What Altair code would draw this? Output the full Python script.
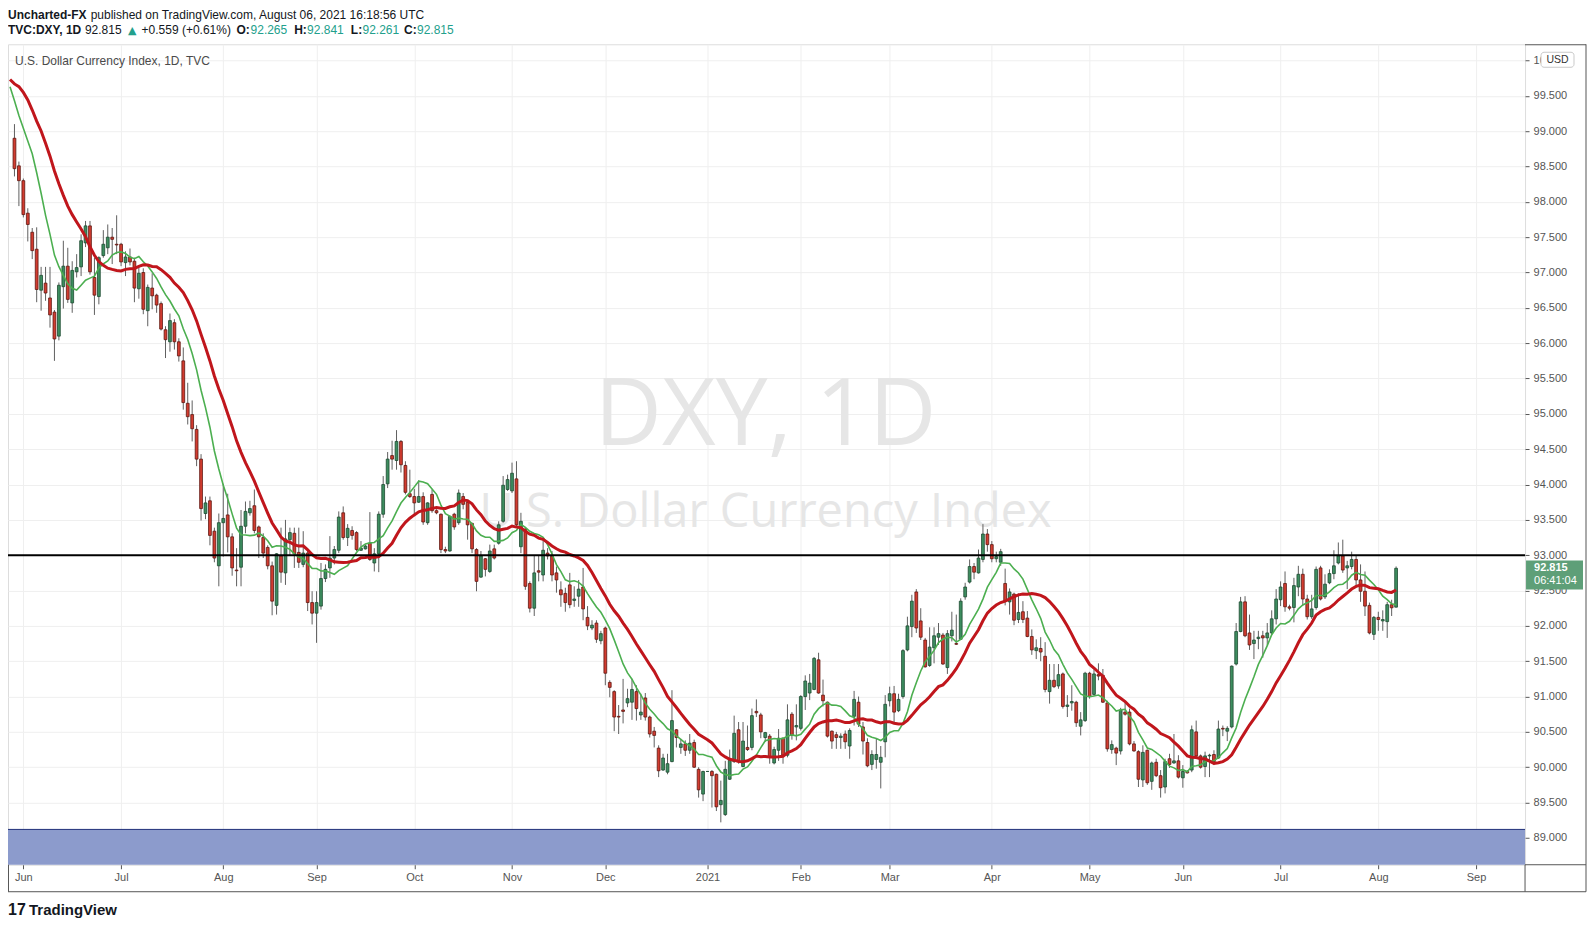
import altair as alt
import pandas as pd

# ---------------- data ----------------
# one entry per daily bar, 28 May 2020 ... 6 Aug 2021 (bar index 0..311)
opens = [
    98.90, 98.51, 98.30, 97.84, 97.57, 97.33, 96.75, 96.85, 96.64, 96.44,
    96.10, 96.80, 97.09, 96.57, 97.01, 97.08, 97.42, 97.66, 96.93, 96.66,
    97.24, 97.35, 97.50, 97.40, 97.40, 97.14, 97.22, 97.16, 96.77, 97.00,
    96.46, 96.78, 96.68, 96.56, 96.19, 96.02, 96.29, 96.02, 95.75, 95.15,
    94.99, 94.78, 94.36, 93.59, 93.77, 93.34, 92.85, 93.46, 93.57, 93.26,
    92.79, 92.83, 93.41, 93.60, 93.70, 93.40, 93.25, 93.11, 92.85, 92.29,
    92.99, 92.75, 93.22, 93.31, 93.04, 92.87, 93.03, 92.33, 92.18, 92.28,
    92.67, 92.82, 92.96, 93.07, 93.60, 93.25, 93.35, 93.32, 93.07, 93.09,
    93.17, 92.89, 93.02, 93.58, 94.01, 94.41, 94.34, 94.61, 94.27, 93.87,
    93.83, 93.75, 93.83, 93.46, 93.86, 93.63, 93.58, 93.08, 93.06, 93.58,
    93.46, 93.83, 93.75, 93.45, 93.08, 92.69, 92.95, 92.77, 93.09, 93.17,
    93.48, 93.93, 93.91, 94.08, 93.12, 93.37, 92.60, 92.25, 92.78, 92.72,
    93.03, 92.99, 92.75, 92.51, 92.46, 92.58, 92.36, 92.42, 92.55, 92.12,
    91.97, 92.04, 91.79, 91.97, 91.20, 91.07, 90.72, 90.81, 90.91, 90.92,
    91.07, 90.74, 90.98, 90.71, 90.51, 90.27, 89.96, 89.93, 90.08, 90.53,
    90.28, 90.33, 90.24, 90.35, 89.97, 89.62, 89.94, 89.94, 89.90, 89.47,
    89.33, 89.83, 90.08, 90.53, 90.01, 90.28, 90.28, 90.79, 90.74, 90.42,
    90.44, 90.06, 90.24, 90.41, 90.17, 90.75, 90.57, 90.55, 91.00, 91.05,
    91.10, 91.52, 91.02, 90.92, 90.51, 90.46, 90.42, 90.47, 90.30, 90.72,
    90.92, 90.57, 90.35, 90.04, 90.11, 90.07, 90.36, 90.94, 91.04, 90.80,
    91.00, 91.66, 91.99, 92.48, 92.07, 91.80, 91.44, 91.69, 91.84, 91.87,
    91.41, 91.86, 91.75, 91.81, 92.41, 92.62, 92.84, 92.75, 92.94, 93.30,
    93.15, 92.95, 92.90, 92.60, 92.34, 92.45, 92.09, 92.20, 92.11, 91.85,
    91.65, 91.68, 91.57, 91.07, 91.23, 91.15, 91.32, 90.86, 90.91, 90.92,
    90.58, 90.66, 91.33, 91.03, 91.31, 91.30, 90.91, 90.25, 90.27, 90.23,
    90.78, 90.78, 90.33, 90.22, 89.82, 90.24, 89.80, 90.07, 89.88, 89.72,
    90.12, 90.06, 90.09, 89.85, 89.94, 89.96, 90.50, 90.16, 90.01, 90.16,
    90.18, 90.13, 90.55, 90.51, 90.57, 91.46, 91.92, 92.34, 91.90, 91.75,
    91.82, 91.86, 91.83, 91.90, 92.10, 92.37, 92.60, 92.27, 92.26, 92.55,
    92.73, 92.38, 92.13, 92.26, 92.82, 92.41, 92.61, 92.74, 92.89, 92.99,
    92.82, 92.84, 92.94, 92.65, 92.49, 92.29, 91.88, 92.12, 92.07, 92.06,
    92.30, 92.265,
]
highs = [
    99.10, 98.57, 98.33, 97.91, 97.63, 97.64, 97.08, 97.08, 97.08, 96.47,
    96.86, 97.45, 97.35, 97.16, 97.26, 97.54, 97.73, 97.73, 97.21, 97.23,
    97.60, 97.68, 97.63, 97.81, 97.42, 97.30, 97.34, 97.21, 97.09, 97.06,
    96.83, 96.99, 96.70, 96.59, 96.24, 96.42, 96.34, 96.07, 95.94, 95.44,
    95.19, 94.84, 94.43, 93.83, 93.83, 93.39, 93.59, 94.01, 93.87, 93.31,
    93.10, 93.64, 93.76, 93.77, 93.93, 93.42, 93.31, 93.14, 92.91, 93.03,
    93.39, 93.50, 93.39, 93.39, 93.39, 93.34, 93.08, 92.49, 92.49, 92.89,
    92.87, 93.27, 93.13, 93.62, 93.69, 93.44, 93.41, 93.34, 93.20, 93.15,
    93.61, 93.10, 93.62, 94.12, 94.46, 94.62, 94.77, 94.63, 94.33, 94.21,
    93.94, 94.06, 93.89, 93.75, 93.93, 93.65, 93.59, 93.12, 93.56, 93.60,
    93.93, 93.88, 93.76, 93.46, 93.10, 93.06, 92.96, 93.15, 93.15, 93.48,
    94.12, 94.14, 94.31, 94.33, 93.60, 93.40, 92.63, 92.99, 92.99, 93.22,
    93.10, 93.06, 92.84, 92.63, 92.54, 92.75, 92.56, 92.65, 92.82, 92.28,
    92.08, 92.08, 91.93, 91.99, 91.23, 91.09, 90.88, 91.25, 91.11, 91.25,
    91.16, 91.04, 91.05, 90.73, 90.57, 90.31, 90.19, 90.19, 91.09, 90.54,
    90.40, 90.38, 90.47, 90.39, 90.00, 89.95, 89.94, 89.96, 89.91, 89.81,
    90.09, 90.25, 90.73, 90.64, 90.64, 90.59, 90.83, 90.96, 90.77, 90.50,
    90.47, 90.29, 90.54, 90.42, 90.89, 90.78, 90.89, 91.02, 91.30, 91.32,
    91.56, 91.62, 91.24, 90.93, 90.52, 90.50, 90.48, 90.52, 90.55, 91.08,
    91.00, 90.64, 90.41, 90.24, 90.41, 90.30, 91.02, 91.14, 91.15, 91.04,
    91.67, 92.13, 92.44, 92.52, 92.25, 91.83, 91.98, 91.98, 92.04, 91.90,
    91.94, 92.20, 92.16, 92.39, 92.61, 92.94, 92.89, 93.08, 93.44, 93.37,
    93.20, 93.05, 93.09, 92.81, 92.53, 92.47, 92.46, 92.35, 92.21, 91.95,
    91.81, 91.84, 91.77, 91.46, 91.46, 91.46, 91.34, 91.02, 91.16, 90.94,
    90.78, 91.35, 91.35, 91.41, 91.47, 91.39, 90.94, 90.38, 90.29, 90.84,
    90.94, 90.83, 90.37, 90.24, 90.31, 90.25, 90.08, 90.12, 89.96, 90.12,
    90.19, 90.47, 90.17, 90.03, 89.96, 90.59, 90.66, 90.18, 90.22, 90.19,
    90.24, 90.66, 90.59, 90.58, 91.44, 92.04, 92.41, 92.42, 92.16, 91.93,
    91.93, 91.93, 92.04, 92.22, 92.52, 92.63, 92.77, 92.30, 92.68, 92.85,
    92.81, 92.44, 92.44, 92.84, 92.85, 92.73, 92.80, 93.07, 93.18, 93.22,
    92.92, 93.05, 92.99, 92.87, 92.77, 92.33, 92.14, 92.20, 92.22, 92.34,
    92.37, 92.841,
]
lows = [
    98.36, 97.94, 97.78, 97.44, 97.19, 96.58, 96.46, 96.60, 96.22, 95.75,
    96.04, 96.49, 96.57, 96.43, 96.93, 96.95, 97.36, 96.97, 96.40, 96.55,
    97.21, 97.26, 97.12, 97.26, 97.09, 96.95, 97.10, 96.58, 96.63, 96.41,
    96.24, 96.48, 96.43, 96.18, 95.79, 95.88, 95.91, 95.74, 95.06, 94.85,
    94.61, 94.26, 93.49, 93.51, 93.14, 92.90, 92.56, 92.98, 93.04, 92.71,
    92.56, 92.56, 93.31, 93.56, 93.31, 92.96, 92.96, 92.80, 92.15, 92.16,
    92.61, 92.58, 92.99, 92.82, 92.82, 92.83, 92.21, 92.02, 91.76, 92.23,
    92.62, 92.68, 92.87, 93.03, 93.22, 93.13, 93.22, 93.06, 93.06, 93.08,
    92.92, 92.77, 92.76, 93.53, 93.95, 94.21, 94.21, 94.17, 93.86, 93.81,
    93.55, 93.74, 93.43, 93.43, 93.60, 93.58, 93.03, 93.03, 93.05, 93.36,
    93.43, 93.65, 93.22, 93.03, 92.49, 92.68, 92.70, 92.75, 92.94, 93.15,
    93.46, 93.91, 93.88, 93.41, 93.03, 92.51, 92.19, 92.14, 92.63, 92.63,
    92.94, 92.63, 92.47, 92.27, 92.20, 92.25, 92.27, 92.27, 92.08, 91.94,
    91.94, 91.76, 91.74, 91.16, 90.99, 90.51, 90.47, 90.62, 90.85, 90.67,
    90.66, 90.67, 90.66, 90.42, 90.28, 89.86, 89.95, 89.90, 90.07, 90.28,
    90.19, 90.16, 90.19, 89.99, 89.57, 89.52, 89.94, 89.43, 89.38, 89.22,
    89.31, 89.82, 90.06, 90.05, 90.00, 90.23, 90.24, 90.71, 90.41, 90.36,
    90.05, 90.04, 90.09, 90.05, 90.14, 90.39, 90.38, 90.52, 90.81, 90.95,
    91.09, 91.04, 90.86, 90.42, 90.26, 90.26, 90.26, 90.26, 90.12, 90.59,
    90.57, 90.18, 90.00, 89.96, 89.98, 89.70, 90.14, 90.86, 90.62, 90.78,
    90.97, 91.64, 91.84, 91.90, 91.80, 91.41, 91.42, 91.47, 91.73, 91.45,
    91.32, 91.78, 91.73, 91.80, 92.37, 92.60, 92.66, 92.74, 92.90, 93.05,
    92.90, 92.90, 92.85, 92.29, 92.16, 92.01, 92.04, 92.04, 91.84, 91.59,
    91.53, 91.50, 91.06, 90.90, 91.12, 91.11, 90.83, 90.71, 90.80, 90.57,
    90.45, 90.64, 90.97, 91.01, 91.23, 90.91, 90.22, 90.19, 90.03, 90.18,
    90.73, 90.31, 90.22, 89.72, 89.72, 89.75, 89.68, 89.86, 89.57, 89.63,
    89.99, 90.05, 89.84, 89.71, 89.91, 89.93, 90.15, 89.98, 89.86, 89.86,
    90.03, 90.12, 90.44, 90.37, 90.55, 91.44, 91.91, 91.84, 91.66, 91.53,
    91.67, 91.55, 91.72, 91.88, 92.02, 92.28, 92.20, 92.22, 92.05, 92.42,
    92.29, 92.09, 92.10, 92.23, 92.36, 92.38, 92.59, 92.66, 92.87, 92.75,
    92.52, 92.80, 92.56, 92.34, 92.14, 91.88, 91.80, 91.93, 91.93, 91.83,
    92.14, 92.261,
]
closes = [
    98.47, 98.30, 97.82, 97.68, 97.31, 96.76, 96.96, 96.71, 96.40, 96.06,
    96.82, 97.09, 96.62, 97.03, 97.07, 97.45, 97.66, 97.01, 96.68, 97.21,
    97.40, 97.50, 97.47, 97.39, 97.15, 97.22, 97.15, 96.78, 96.99, 96.48,
    96.79, 96.67, 96.54, 96.20, 96.05, 96.32, 96.02, 95.82, 95.16, 94.96,
    94.79, 94.36, 93.66, 93.74, 93.28, 92.96, 93.46, 93.52, 93.26, 92.82,
    92.78, 93.41, 93.62, 93.66, 93.35, 93.26, 93.03, 92.85, 92.35, 93.02,
    92.76, 93.23, 93.32, 93.02, 92.90, 93.03, 92.33, 92.18, 92.33, 92.67,
    92.80, 92.96, 93.08, 93.54, 93.25, 93.38, 93.28, 93.08, 93.10, 93.13,
    92.94, 93.02, 93.58, 94.00, 94.36, 94.36, 94.61, 94.28, 93.89, 93.83,
    93.74, 93.83, 93.47, 93.74, 93.63, 93.60, 93.08, 93.06, 93.55, 93.40,
    93.88, 93.72, 93.43, 93.09, 92.63, 92.99, 92.80, 93.06, 92.96, 93.43,
    93.99, 94.07, 94.16, 93.43, 93.48, 92.56, 92.25, 92.75, 92.76, 93.07,
    92.99, 92.72, 92.65, 92.44, 92.33, 92.30, 92.38, 92.52, 92.24, 92.00,
    92.01, 91.81, 91.89, 91.33, 91.13, 90.71, 90.71, 90.79, 90.97, 91.10,
    90.83, 90.78, 90.71, 90.47, 90.45, 89.95, 90.13, 90.05, 90.66, 90.42,
    90.33, 90.24, 90.34, 90.00, 89.68, 89.94, 89.94, 89.88, 89.44, 89.53,
    89.97, 90.10, 90.48, 90.08, 90.37, 90.25, 90.73, 90.77, 90.50, 90.49,
    90.14, 90.25, 90.41, 90.17, 90.67, 90.45, 90.59, 91.00, 91.22, 91.19,
    91.54, 91.05, 90.94, 90.44, 90.37, 90.42, 90.44, 90.36, 90.52, 90.96,
    90.61, 90.37, 90.02, 90.18, 90.18, 90.14, 90.89, 91.04, 90.78, 90.96,
    91.65, 92.00, 92.35, 91.97, 91.84, 91.42, 91.70, 91.86, 91.89, 91.46,
    91.89, 91.94, 91.74, 92.35, 92.55, 92.84, 92.76, 92.96, 93.30, 93.15,
    92.95, 92.98, 93.05, 92.35, 92.48, 92.08, 92.19, 92.09, 91.85, 91.66,
    91.69, 91.63, 91.10, 91.23, 91.14, 91.31, 90.86, 90.88, 90.93, 90.63,
    90.67, 91.33, 91.00, 91.32, 91.29, 90.92, 90.26, 90.32, 90.20, 90.81,
    90.75, 90.33, 90.23, 89.83, 90.21, 89.78, 90.06, 89.88, 89.71, 90.08,
    90.04, 90.09, 89.86, 89.94, 89.92, 90.53, 90.16, 90.00, 90.16, 90.17,
    90.08, 90.54, 90.54, 90.55, 91.43, 91.92, 92.34, 91.86, 91.73, 91.80,
    91.84, 91.83, 91.90, 92.10, 92.38, 92.55, 92.27, 92.25, 92.57, 92.73,
    92.38, 92.13, 92.24, 92.80, 92.38, 92.59, 92.74, 92.85, 92.99, 92.79,
    92.85, 92.94, 92.65, 92.49, 92.28, 91.90, 92.12, 92.09, 92.09, 92.30,
    92.256, 92.815,
]
# closes of the 19 sessions before the first visible bar: they only feed the
# start of the two moving averages, which enter the chart already running
earlier_closes = [
    99.06, 99.48, 99.78, 100.18, 99.90, 99.75, 100.20, 100.04, 100.24, 100.45,
    100.38, 99.64, 99.46, 99.13, 99.44, 99.86, 99.84, 99.10, 98.98,
]
month_idx = [2, 24, 47, 68, 90, 112, 133, 156, 177, 197, 220, 242, 263, 285, 307, 329]
month_labels = ["Jun", "Jul", "Aug", "Sep", "Oct", "Nov", "Dec", "2021",
                "Feb", "Mar", "Apr", "May", "Jun", "Jul", "Aug", "Sep"]
price_ticks = [89.0, 89.5, 90.0, 90.5, 91.0, 91.5, 92.0, 92.5, 93.0, 93.5, 94.0,
               94.5, 95.0, 95.5, 96.0, 96.5, 97.0, 97.5, 98.0, 98.5, 99.0, 99.5, 100.0]
level_line = 93.0
zone = [88.62, 89.12]
ma_fast, ma_slow = 10, 20

# ---------------- layout / style ----------------
W, H = 1518, 821
XS = alt.Scale(domain=[-0.33, 338.9], nice=False, zero=False)
YS = alt.Scale(domain=[88.62, 100.23], nice=False, zero=False)
FONT = "Liberation Sans"
UP, DOWN = "#3d8d5f", "#d23c30"
UP_EDGE, DOWN_EDGE = "#1d4a31", "#5e1710"
TEAL = "#22a08c"
GRID = "#efefef"

candles = pd.DataFrame({"idx": list(range(len(closes))), "open": opens,
                        "high": highs, "low": lows, "close": closes})
candles["dir"] = ["up" if c >= o else "down" for o, c in zip(opens, closes)]

ma_df = pd.DataFrame({
    "idx": list(range(-len(earlier_closes), 0)) + list(range(len(closes))),
    "close": earlier_closes + closes,
})
last = candles.tail(1).copy()

label_expr = "".join(f"datum.value == {i} ? '{l}' : " for i, l in zip(month_idx, month_labels)) + "''"

X_AXIS = alt.Axis(values=month_idx, labelExpr=label_expr, title=None, domain=False,
                  ticks=True, tickSize=4, tickColor="#555", labelColor="#555",
                  labelFont=FONT, labelFontSize=11, labelPadding=3, grid=True,
                  gridColor=GRID, labelOverlap=False, labelFlush=False)
Y_AXIS = alt.Axis(orient="right", values=price_ticks, format=".3f", title=None,
                  domain=False, tickSize=4, tickColor="#555", labelColor="#555",
                  labelFont=FONT, labelFontSize=11, labelPadding=4, grid=True,
                  gridColor=GRID, labelOverlap=False)


def X(field):
    return alt.X(field, scale=XS, axis=X_AXIS)


def Y(field):
    return alt.Y(field, scale=YS, axis=Y_AXIS)


one = alt.Data(values=[{}])


def txt(text, x, y, size=12, weight="normal", color="#131722", align="left",
        baseline="middle", font=FONT):
    return alt.Chart(one).mark_text(text=text, x=x, y=y, fontSize=size, fontWeight=weight,
                                    color=color, align=align, baseline=baseline, font=font)


def rule(x, x2, y, y2, color="#555", width=1):
    return alt.Chart(one).mark_rule(color=color, strokeWidth=width).encode(
        x=alt.value(x), x2=alt.value(x2), y=alt.value(y), y2=alt.value(y2))


# watermark
wm1 = txt("DXY, 1D", 758, 401, size=93, color="#e6e6e6", align="center",
          baseline="alphabetic", font="Open Sans")
wm2 = txt("U.S. Dollar Currency Index", 758, 483, size=47, color="#e6e6e6",
          align="center", baseline="alphabetic", font="Open Sans")

base_c = alt.Chart(candles)
wicks = base_c.mark_rule(color="#5f5f5f", strokeWidth=1).encode(
    x=X("idx:Q"), y=Y("low:Q"), y2="high:Q")
bodies = base_c.mark_bar(size=2.8, strokeWidth=0.8).encode(
    x=X("idx:Q"), y=Y("open:Q"), y2="close:Q",
    color=alt.Color("dir:N", scale=alt.Scale(domain=["up", "down"], range=[UP, DOWN]), legend=None),
    stroke=alt.Stroke("dir:N", scale=alt.Scale(domain=["up", "down"], range=[UP_EDGE, DOWN_EDGE]), legend=None),
)

ma_base = alt.Chart(ma_df).transform_window(
    fast="mean(close)", frame=[-(ma_fast - 1), 0], sort=[alt.SortField("idx")]
).transform_window(
    slow="mean(close)", frame=[-(ma_slow - 1), 0], sort=[alt.SortField("idx")]
).transform_filter("datum.idx >= -1")
ma_slow_line = ma_base.mark_line(color="#c0161c", strokeWidth=3, clip=True).encode(
    x=X("idx:Q"), y=Y("slow:Q"))
ma_fast_line = ma_base.mark_line(color="#4caf50", strokeWidth=1.6, clip=True).encode(
    x=X("idx:Q"), y=Y("fast:Q"))

zone_rect = alt.Chart(one).mark_rect(color="#8c9bcc").encode(
    x=alt.value(0), x2=alt.value(W),
    y=alt.datum(zone[1], scale=YS, axis=Y_AXIS), y2=alt.datum(zone[0]))
zone_edge = alt.Chart(one).mark_rule(color="#1f2f78", strokeWidth=1).encode(
    y=alt.datum(zone[1], scale=YS, axis=Y_AXIS))
level = alt.Chart(one).mark_rule(color="#000000", strokeWidth=2).encode(
    y=alt.datum(level_line, scale=YS, axis=Y_AXIS))

# last price tag
tag_base = alt.Chart(last).transform_calculate(top="datum.close + 0.11", bot="datum.close - 0.30")
tag_rect = tag_base.mark_rect(color="#5e9f78").encode(
    x=alt.value(W + 1), x2=alt.value(W + 58), y=Y("top:Q"), y2="bot:Q")
tag_price = tag_base.mark_text(align="left", baseline="middle", fontSize=11, fontWeight="bold",
                               color="white", font=FONT).encode(
    x=alt.value(W + 9), y=Y("close:Q"), text=alt.Text("close:Q", format=".3f"))
tag_time = tag_base.mark_text(align="left", baseline="middle", fontSize=11, color="white",
                              font=FONT, dy=13, text="06:41:04").encode(
    x=alt.value(W + 9), y=Y("close:Q"))

# USD badge
usd_box = alt.Chart(one).mark_rect(fill="white", stroke="#c9c9c9", strokeWidth=1,
                                   cornerRadius=3).encode(
    x=alt.value(W + 16), x2=alt.value(W + 49), y=alt.value(8), y2=alt.value(23))
usd_txt = txt("USD", W + 32.5, 15.5, size=10.5, color="#333", align="center")

# header
hy1, hy2 = -25, -10
header = [
    txt("Uncharted-FX", 0, hy1, weight="bold", baseline="alphabetic"),
    txt("published on TradingView.com, August 06, 2021 16:18:56 UTC", 82.7, hy1, baseline="alphabetic"),
    txt("TVC:DXY, 1D", 0, hy2, weight="bold", baseline="alphabetic"),
    txt("92.815", 77, hy2, baseline="alphabetic"),
    txt("\u25B2", 120, hy2, size=11, color=TEAL, font="DejaVu Sans", baseline="alphabetic"),
    txt("+0.559 (+0.61%)", 133.7, hy2, baseline="alphabetic"),
    txt("O:", 242, hy2, weight="bold", align="right", baseline="alphabetic"),
    txt("92.265", 242.7, hy2, color=TEAL, baseline="alphabetic"),
    txt("H:", 299, hy2, weight="bold", align="right", baseline="alphabetic"),
    txt("92.841", 299.3, hy2, color=TEAL, baseline="alphabetic"),
    txt("L:", 354.4, hy2, weight="bold", align="right", baseline="alphabetic"),
    txt("92.261", 354.7, hy2, color=TEAL, baseline="alphabetic"),
    txt("C:", 409, hy2, weight="bold", align="right", baseline="alphabetic"),
    txt("92.815", 409.3, hy2, color=TEAL, baseline="alphabetic"),
]
title = txt("U.S. Dollar Currency Index, 1D, TVC", 7, 17, size=12, color="#4a4a4a")
logo_icon = txt("17", 0, 866, size=16, weight="bold", color="#131722")
logo = txt("TradingView", 21, 866, size=15, weight="bold", color="#131722")

# outer frame of the chart widget
R = W + 61
frame = [
    rule(W, R, 0.5, 0.5), rule(R, R, 0, 848), rule(0, R, 848, 848),
    rule(W, R, H, H), rule(W, W, H, 848), rule(0.5, 0.5, H, 848),
]

chart = alt.layer(
    wm1, wm2, wicks, zone_rect, zone_edge, bodies, ma_fast_line, ma_slow_line, level,
    tag_rect, tag_price, tag_time, usd_box, usd_txt, title, *header, logo_icon, logo, *frame,
).properties(
    width=W, height=H,
    padding={"left": 0, "top": 36, "right": 62, "bottom": 54},
    autosize=alt.AutoSizeParams(type="none"),
).configure_view(stroke="#555", strokeWidth=1).configure(background="white")

chart.save("out.html", embed_options={"renderer": "svg", "actions": False})
